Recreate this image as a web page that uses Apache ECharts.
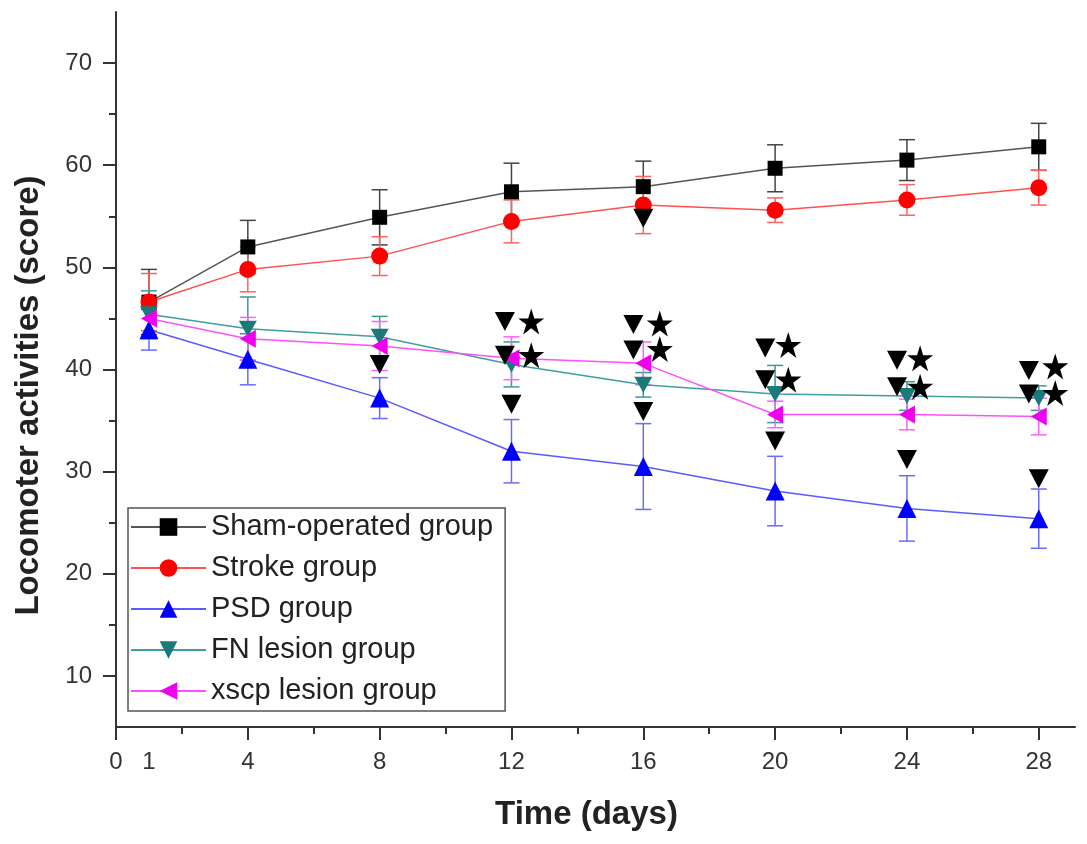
<!DOCTYPE html>
<html><head><meta charset="utf-8">
<script src="https://cdn.jsdelivr.net/npm/echarts@6/dist/echarts.min.js"></script>
<style>html,body{margin:0;padding:0;background:#fff}#c{width:1087px;height:844px}</style>
</head><body><div id="c"></div>
<script>
const days = [1, 4, 8, 12, 16, 20, 24, 28];
const shamMean = [46.6, 52.0, 54.9, 57.4, 57.9, 59.7, 60.5, 61.8];
const shamErr  = [3.2, 2.6, 2.7, 2.8, 2.5, 2.3, 2.0, 2.3];
const strokeMean = [46.6, 49.8, 51.1, 54.5, 56.1, 55.6, 56.6, 57.8];
const strokeErr  = [2.8, 2.2, 1.9, 2.1, 2.8, 1.2, 1.5, 1.7];
const psdMean = [43.9, 41.0, 37.2, 32.0, 30.5, 28.1, 26.4, 25.4];
const psdErr  = [2.0, 2.5, 2.0, 3.1, 4.2, 3.4, 3.2, 2.9];
const fnMean = [45.4, 44.0, 43.2, 40.5, 38.5, 37.6, 37.4, 37.2];
const fnErr  = [2.3, 3.1, 2.0, 2.2, 1.2, 2.8, 1.4, 1.2];
const xscpMean = [45.0, 43.0, 42.3, 41.1, 40.6, 35.6, 35.6, 35.4];
const xscpErr  = [2.0, 2.1, 2.4, 2.1, 2.1, 1.3, 1.5, 1.8];

// significance marks (day, score)
const sigTriangles = [[8,40.5],[11.8,44.7],[11.8,41.4],[12,36.6],[16,54.8],
  [15.7,44.4],[15.7,41.9],[16,35.9],[19.7,42.1],[19.7,39.0],[20,33.0],
  [23.7,40.9],[23.7,38.3],[24,31.2],[27.7,39.9],[27.7,37.6],[28,29.3]];
const sigStars = [[12.6,44.7],[12.6,41.4],[16.5,44.5],[16.5,42.0],[20.4,42.4],[20.4,39.0],
  [24.4,41.1],[24.4,38.3],[28.5,40.3],[28.5,37.7]];

const xLabelValues = [0, 1, 4, 8, 12, 16, 20, 24, 28];
const xMajorTicks = [0, 4, 8, 12, 16, 20, 24, 28];
const xMinorTicks = [2, 6, 10, 14, 18, 22, 26];
const yLabelValues = [10, 20, 30, 40, 50, 60, 70];
const yMinorTicks = [15, 25, 35, 45, 55, 65];

const names = ['Sham-operated group','Stroke group','PSD group','FN lesion group','xscp lesion group'];
const means = [shamMean, strokeMean, psdMean, fnMean, xscpMean];
const errs = [shamErr, strokeErr, psdErr, fnErr, xscpErr];
const lineColors = ['#555555','#ff5050','#5a5aff','#3f9f9f','#ff50ff'];
const markColors = ['#000000','#ff0000','#0000ff','#1a7a7a','#ee00ee'];
const errColors = ['#444444','#ff6060','#6a6aff','#3a9a9a','#ff60ff'];
const symbols = ['rect','circle','triangle','path://M0,0 L10,0 L5,9 Z','path://M0,5 L9,0 L9,10 Z'];
const symSizes = [15, 17, 19, [18,16], [16,18]];
const STAR = 'path://M50,0 L61.8,36.2 L100,36.2 L69.1,58.8 L80.9,95.1 L50,72.7 L19.1,95.1 L30.9,58.8 L0,36.2 L38.2,36.2 Z';
const FONT = 'Arial, "Liberation Sans", sans-serif';

const series = [];
names.forEach((n, k) => {
  series.push({
    type: 'custom', name: n + ' err', z: 2, silent: true,
    data: days.map((d, i) => [d, means[k][i], errs[k][i]]),
    encode: {x: 0, y: 1},
    renderItem: function (params, api) {
      const x = api.value(0), y = api.value(1), e = api.value(2);
      const t = api.coord([x, y + e]), b = api.coord([x, y - e]);
      const w = 8;
      const st = {stroke: errColors[k], lineWidth: 1.5};
      return {type: 'group', children: [
        {type: 'line', shape: {x1: t[0], y1: t[1], x2: b[0], y2: b[1]}, style: st},
        {type: 'line', shape: {x1: t[0]-w, y1: t[1], x2: t[0]+w, y2: t[1]}, style: st},
        {type: 'line', shape: {x1: b[0]-w, y1: b[1], x2: b[0]+w, y2: b[1]}, style: st}
      ]};
    }
  });
});
names.forEach((n, k) => {
  series.push({
    type: 'line', name: n, z: 3,
    data: days.map((d, i) => [d, means[k][i]]),
    symbol: symbols[k], symbolSize: symSizes[k],
    lineStyle: {color: lineColors[k], width: 1.5},
    itemStyle: {color: markColors[k]},
    emphasis: {disabled: true}, animation: false
  });
});
series.push({type: 'scatter', name: 'sigTri', z: 5, data: sigTriangles,
  symbol: 'path://M0,0 L10,0 L5,9 Z', symbolSize: [20, 19], itemStyle: {color: '#000', opacity: 1}});
series.push({type: 'scatter', name: 'sigStar', z: 5, data: sigStars,
  symbol: STAR, symbolSize: 26, itemStyle: {color: '#000', opacity: 1}});

const axisLineStyle = {color: '#333', width: 2};
const option = {
  animation: false,
  backgroundColor: '#fff',
  grid: {left: 116, top: 12, right: 12, bottom: 117, containLabel: false},
  legend: {
    data: names, orient: 'vertical', left: 128, top: 508,
    padding: [4, 12, 5, 2], itemGap: 11, itemWidth: 75, itemHeight: 22,
    borderColor: '#555', borderWidth: 1.5, backgroundColor: '#fff',
    textStyle: {fontSize: 29, color: '#222', fontFamily: FONT, lineHeight: 30},
    selectedMode: false
  },
  xAxis: [{
    type: 'value', min: 0, max: 29.1, position: 'bottom',
    name: 'Time (days)', nameLocation: 'middle', nameGap: 71,
    nameTextStyle: {fontSize: 33, fontWeight: 'bold', color: '#222', fontFamily: FONT, padding: [0, 18, 0, 0]},
    axisLine: {show: true, lineStyle: axisLineStyle},
    axisTick: {show: true, customValues: xMajorTicks, length: 13, inside: false, lineStyle: {color: '#333', width: 2}},
    axisLabel: {customValues: xLabelValues, fontSize: 24, color: '#333', margin: 23, fontFamily: FONT},
    splitLine: {show: false}
  }, {
    type: 'value', min: 0, max: 29.1, position: 'bottom', gridIndex: 0,
    axisLine: {show: false},
    axisTick: {show: true, customValues: xMinorTicks, length: 7, lineStyle: {color: '#333', width: 2}},
    axisLabel: {show: false}, splitLine: {show: false}
  }],
  yAxis: [{
    type: 'value', min: 5, max: 75, position: 'left',
    name: 'Locomoter activities (score)', nameLocation: 'middle', nameGap: 71, nameRotate: 90,
    nameTextStyle: {fontSize: 33, fontWeight: 'bold', color: '#222', fontFamily: FONT, padding: [0, 52, 0, 0]},
    axisLine: {show: true, lineStyle: axisLineStyle},
    axisTick: {show: true, customValues: yLabelValues, length: 13, lineStyle: {color: '#333', width: 2}},
    axisLabel: {customValues: yLabelValues, fontSize: 24, color: '#333', margin: 24, fontFamily: FONT},
    splitLine: {show: false}
  }, {
    type: 'value', min: 5, max: 75, position: 'left', gridIndex: 0,
    axisLine: {show: false},
    axisTick: {show: true, customValues: yMinorTicks, length: 7, lineStyle: {color: '#333', width: 2}},
    axisLabel: {show: false}, splitLine: {show: false}
  }],
  series: series
};
const chart = echarts.init(document.getElementById('c'), null, {renderer: 'canvas'});
chart.setOption(option);
</script>
</body></html>
